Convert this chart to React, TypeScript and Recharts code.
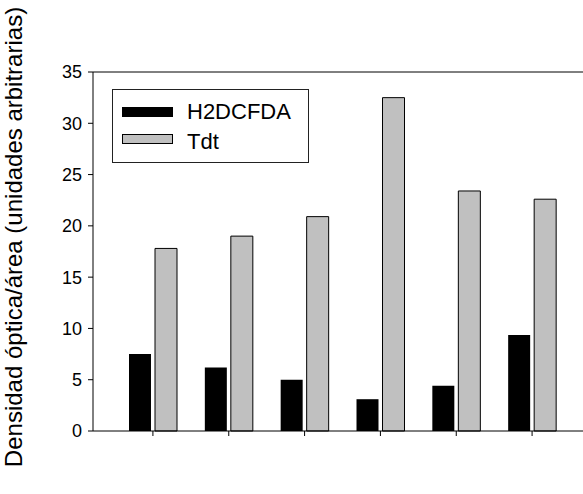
import { Bar, BarChart, XAxis, YAxis } from "recharts";

const groups = ["1", "2", "3", "4", "5", "6"];
const h2dcfda = [7.5, 6.2, 5.0, 3.1, 4.4, 9.35];
const tdt = [17.8, 19.0, 20.9, 32.5, 23.4, 22.6];
const yTicks = [0, 5, 10, 15, 20, 25, 30, 35];

const data = groups.map((g, i) => ({ g, h2dcfda: h2dcfda[i], tdt: tdt[i] }));

const font = "'Liberation Sans', Arial, sans-serif";

function LegendBox() {
  return (
    <div
      style={{
        position: "absolute",
        left: 112,
        top: 89,
        width: 195,
        height: 72,
        border: "1px solid #222",
        background: "#fff",
        fontFamily: font,
        fontSize: 22,
        lineHeight: "22px",
        color: "#000",
      }}
    >
      <div style={{ position: "absolute", left: 9, top: 17, width: 51, height: 10, background: "#000" }} />
      <div style={{ position: "absolute", left: 74, top: 11 }}>H2DCFDA</div>
      <div
        style={{
          position: "absolute",
          left: 9,
          top: 44,
          width: 49,
          height: 8,
          background: "#c0c0c0",
          border: "1px solid #000",
        }}
      />
      <div style={{ position: "absolute", left: 74, top: 41 }}>Tdt</div>
    </div>
  );
}

export default function App() {
  return (
    <div style={{ position: "absolute", left: 0, top: 0, width: 583, height: 494, background: "#fff" }}>
      <BarChart
        width={583}
        height={494}
        data={data}
        margin={{ top: 71, right: 0, bottom: 53, left: 0 }}
        barCategoryGap={14}
        barGap={4}
      >
        <XAxis
          dataKey="g"
          height={10}
          padding={{ left: 22, right: 13 }}
          axisLine={{ stroke: "#000", strokeWidth: 1 }}
          tickLine={{ stroke: "#000" }}
          tickSize={5}
          tickFormatter={() => ""}
        />
        <XAxis
          xAxisId="top"
          orientation="top"
          dataKey="g"
          height={1}
          axisLine={{ stroke: "#000", strokeWidth: 1 }}
          tickLine={false}
          tick={false}
        />
        <YAxis
          width={93}
          domain={[0, 35]}
          ticks={yTicks}
          interval={0}
          axisLine={{ stroke: "#000", strokeWidth: 1 }}
          tickLine={{ stroke: "#000" }}
          tickSize={5}
          tickMargin={6}
          tick={{ fill: "#000", fontSize: 18, fontFamily: font }}
          label={{
            content: () => (
              <text
                x={13}
                y={237}
                transform="rotate(-90 13 237)"
                textAnchor="middle"
                dominantBaseline="central"
                fontSize={24}
                fontFamily={font}
                fill="#000"
              >
                Densidad óptica/área (unidades arbitrarias)
              </text>
            ),
          }}
        />
        <Bar dataKey="h2dcfda" fill="#000" isAnimationActive={false} />
        <Bar dataKey="tdt" fill="#c0c0c0" stroke="#000" strokeWidth={1} isAnimationActive={false} />
      </BarChart>
      <LegendBox />
    </div>
  );
}
